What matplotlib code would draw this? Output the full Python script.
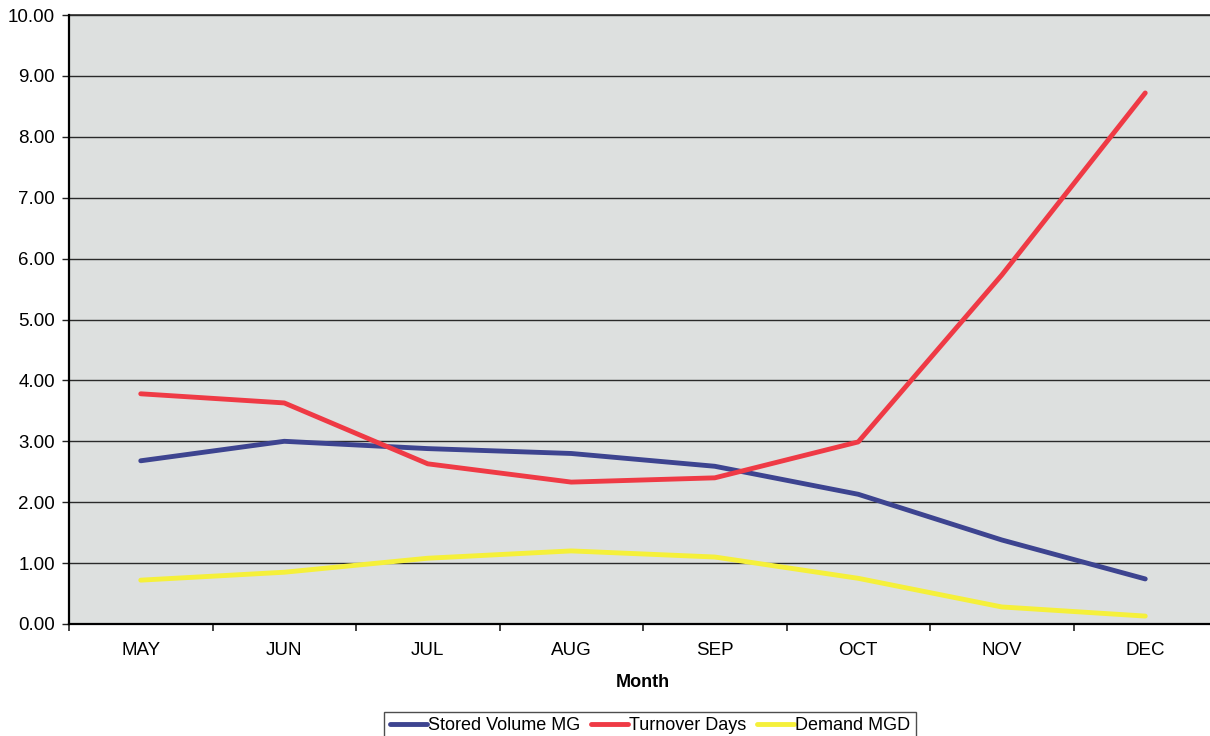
import matplotlib
matplotlib.use("Agg")
import matplotlib.pyplot as plt
from matplotlib.ticker import FixedLocator

plt.rcParams['font.family'] = ['Liberation Sans', 'DejaVu Sans']

months = ["MAY", "JUN", "JUL", "AUG", "SEP", "OCT", "NOV", "DEC"]
stored_volume_mg = [2.68, 3.00, 2.88, 2.80, 2.59, 2.13, 1.38, 0.74]
turnover_days = [3.78, 3.63, 2.63, 2.33, 2.40, 2.99, 5.73, 8.72]
demand_mgd = [0.72, 0.85, 1.08, 1.20, 1.10, 0.75, 0.28, 0.13]
y_ticks = [0, 1, 2, 3, 4, 5, 6, 7, 8, 9, 10]

fig = plt.figure(figsize=(12.10, 7.36), dpi=100)
fig.patch.set_facecolor("white")
ax = fig.add_axes([69 / 1210, 112 / 736, 1148 / 1210, 609 / 736])
ax.set_facecolor("#dde0df")

x = list(range(len(months)))
ax.plot(x, stored_volume_mg, color="#3d4490", lw=3.5, solid_capstyle="round",
        label="Stored Volume MG", zorder=3)
ax.plot(x, turnover_days, color="#ef3a45", lw=3.5, solid_capstyle="round",
        label="Turnover Days", zorder=4)
ax.plot(x, demand_mgd, color="#f5f03a", lw=3.5, solid_capstyle="round",
        label="Demand MGD", zorder=3)

ax.set_xlim(-0.5, len(months) - 0.5)
ax.set_ylim(0, 10)
ax.set_yticks(y_ticks)
ax.set_yticklabels([f"{v:.2f}" for v in y_ticks], fontsize=13.5)
ax.yaxis.grid(True, color="#2a2a2a", lw=1.0)
ax.set_axisbelow(True)

ax.set_xticks(x)
ax.set_xticklabels(months, fontsize=13.5)
ax.xaxis.set_minor_locator(FixedLocator([i + 0.5 for i in range(-1, len(months))]))
ax.tick_params(axis="x", which="major", length=0, pad=13)
ax.tick_params(axis="x", which="minor", length=5, width=1.2, direction="out", color="#222")
ax.tick_params(axis="y", length=5, width=1.0, direction="out", color="#222", pad=5)

for side in ("top", "right"):
    ax.spines[side].set_visible(False)
ax.spines["left"].set_linewidth(1.6)
ax.spines["bottom"].set_linewidth(1.6)
ax.axhline(10, color="#2a2a2a", lw=1.2, clip_on=False)

ax.set_xlabel("Month", fontsize=13, fontweight="bold", labelpad=11)

leg = fig.legend(loc="upper center", bbox_to_anchor=(650 / 1210, 1 - 712 / 736),
                 ncol=3, fontsize=13, frameon=True, fancybox=False,
                 handlelength=2.1, handletextpad=0.05, columnspacing=0.55,
                 borderpad=0.3, borderaxespad=0, edgecolor="#222")
leg.get_frame().set_linewidth(1.0)

fig.savefig("out.png", dpi=100)
